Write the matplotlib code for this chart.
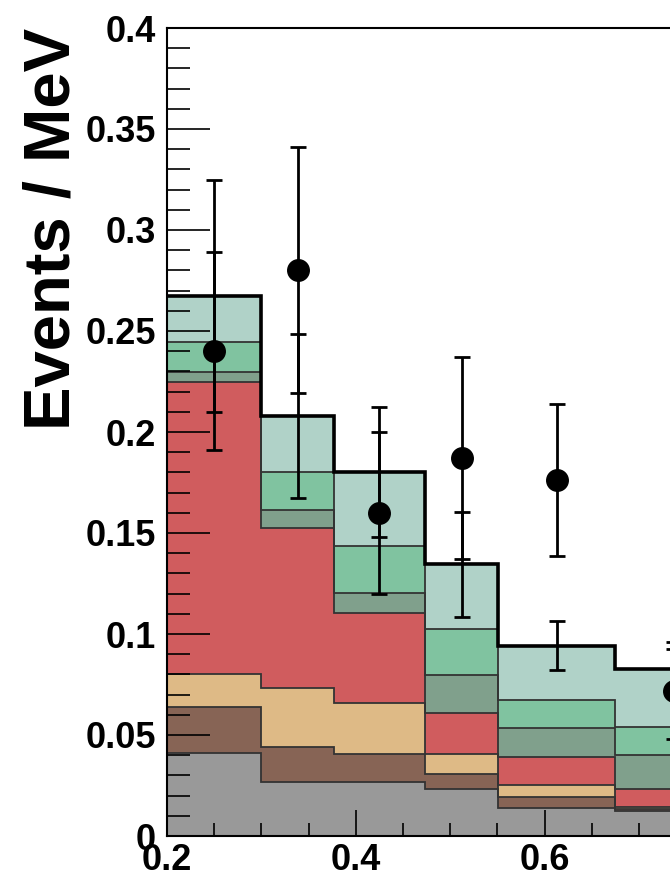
import numpy as np
import matplotlib
matplotlib.use("Agg")
import matplotlib.pyplot as plt
from matplotlib.ticker import MultipleLocator, FuncFormatter

plt.rcParams['font.family'] = ['Liberation Sans', 'DejaVu Sans']
plt.rcParams['font.weight'] = 'bold'

# bin edges (only the visible part of the plot)
edges = [0.2, 0.3, 0.377, 0.473, 0.551, 0.675, 0.80]

# stacked components, bottom to top (height of each layer per bin)
gray = [0.0410, 0.0269, 0.0268, 0.0231, 0.0137, 0.0124]
brown = [0.0227, 0.0173, 0.0138, 0.0076, 0.0058, 0.0011]
tan = [0.0163, 0.0289, 0.0251, 0.0099, 0.0057, 0.0010]
red = [0.1449, 0.0795, 0.0445, 0.0201, 0.0138, 0.0086]
dkgreen = [0.0050, 0.0088, 0.0103, 0.0190, 0.0143, 0.0170]
green = [0.0145, 0.0186, 0.0230, 0.0230, 0.0140, 0.0137]
teal = [0.0231, 0.0279, 0.0367, 0.0319, 0.0269, 0.0287]

layers = [gray, brown, tan, red, dkgreen, green, teal]
colors = ['#999999', '#876455', '#deba86', '#d05c5e', '#80a08c', '#80c3a0', '#b0d2c8']

# MC uncertainty on the total
mc_err = [0.0574, 0.0408, 0.0324, 0.0260, 0.0121, 0.010]

# data points
data_y = [0.2401, 0.2802, 0.1599, 0.1871, 0.1762, 0.0720]
data_err = [0.0490, 0.0609, 0.0399, 0.0502, 0.0376, 0.0240]

edges = np.array(edges)
centers = (edges[:-1] + edges[1:]) / 2

fig = plt.figure(figsize=(6.7, 8.77), dpi=100)
ax = fig.add_axes([167/670, 41/877, 944*0.8/670, 808/877])

bottom = np.zeros(len(centers))
for vals, c in zip(layers, colors):
    top = bottom + np.array(vals)
    ax.stairs(top, edges, baseline=bottom, fill=True, color=c, zorder=1)
    ax.stairs(top, edges, baseline=None, color='#333333', lw=1.3, zorder=1.1)
    bottom = top

mc_total = bottom
ax.stairs(mc_total, edges, baseline=None, color='black', lw=2.6, zorder=2)

ax.errorbar(centers, mc_total, yerr=mc_err, fmt='none', ecolor='black',
            elinewidth=2, capsize=6, capthick=2, zorder=4)
ax.errorbar(centers, data_y, yerr=data_err, fmt='o', color='black', ms=15.5,
            elinewidth=2, capsize=6, capthick=2, zorder=5)

ax.set_xlim(0.2, 1.0)
ax.set_ylim(0, 0.4)

ax.xaxis.set_major_locator(MultipleLocator(0.2))
ax.xaxis.set_minor_locator(MultipleLocator(0.05))
ax.yaxis.set_major_locator(MultipleLocator(0.05))
ax.yaxis.set_minor_locator(MultipleLocator(0.01))
# labels past the right edge of the picture are not shown
ax.xaxis.set_major_formatter(FuncFormatter(lambda v, p: '%g' % round(v, 3) if v < 0.7 else ''))
ax.yaxis.set_major_formatter(FuncFormatter(lambda v, p: '%g' % round(v, 3)))

ax.set_axisbelow(False)
ax.tick_params(axis='both', which='both', direction='in', width=1.2, color='black')
ax.tick_params(axis='y', which='major', length=31, labelsize=26, pad=8)
ax.tick_params(axis='y', which='minor', length=16.5)
ax.tick_params(axis='x', which='major', length=18.7, labelsize=26, pad=5)
ax.tick_params(axis='x', which='minor', length=9.4)
for lab in ax.get_xticklabels() + ax.get_yticklabels():
    lab.set_fontweight('bold')

ax.spines['right'].set_visible(False)
for s in ['left', 'top', 'bottom']:
    ax.spines[s].set_linewidth(1.5)

fig.text(53/670, 1 - 28/877, 'Events / MeV', rotation=90, ha='center', va='top',
         fontsize=47, fontweight='bold')

fig.savefig('out.png', dpi=100)
